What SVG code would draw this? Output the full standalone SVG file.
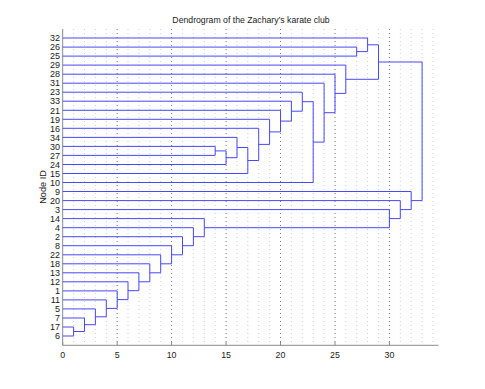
<svg xmlns="http://www.w3.org/2000/svg" width="485" height="389" viewBox="0 0 485 389">
<style>
.t{font-family:"Liberation Sans",Arial,sans-serif;fill:#1a1a1a;}
.yl{font-size:9px;text-anchor:end;}
.xl{font-size:8.8px;text-anchor:middle;}
.gmin{stroke:#c4c4c4;stroke-width:0.8;stroke-dasharray:1 3;fill:none;}
.gmaj{stroke:#555;stroke-width:0.8;stroke-dasharray:1 3;fill:none;}
.ax{stroke:#8a8a8a;stroke-width:1;fill:none;}
.lk{stroke:#4848ff;stroke-width:1;fill:none;}
</style>
<rect width="485" height="389" fill="#fff"/>
<text class="t" x="251" y="22.5" font-size="8.7" text-anchor="middle">Dendrogram of the Zachary’s karate club</text>
<g id="grid">
<path class="gmin" d="M73.6 29V345M84.5 29V345M95.4 29V345M106.3 29V345M128 29V345M138.9 29V345M149.8 29V345M160.7 29V345M182.5 29V345M193.4 29V345M204.3 29V345M215.2 29V345M237 29V345M247.8 29V345M258.7 29V345M269.6 29V345M291.4 29V345M302.3 29V345M313.2 29V345M324.1 29V345M345.8 29V345M356.7 29V345M367.6 29V345M378.5 29V345M400.3 29V345M411.2 29V345M422.1 29V345M433 29V345"/>
<path class="gmaj" d="M117.2 29V345M171.6 29V345M226.1 29V345M280.5 29V345M335 29V345M389.4 29V345"/>
</g>
<g id="axes">
<path class="ax" d="M62.7 29V345.3H438.4"/>
<path class="ax" d="M62.7 345.3V342M117.2 345.3V342M171.6 345.3V342M226.1 345.3V342M280.5 345.3V342M335 345.3V342M389.4 345.3V342"/>
<g class="t xl">
<text x="62.7" y="357.5">0</text><text x="117.2" y="357.5">5</text><text x="171.6" y="357.5">10</text><text x="226.1" y="357.5">15</text><text x="280.5" y="357.5">20</text><text x="335" y="357.5">25</text><text x="389.4" y="357.5">30</text>
</g>
<text class="t" font-size="9.2" text-anchor="middle" transform="translate(46 187) rotate(-90)">Node ID</text>
</g>
<g id="leaves" class="t yl">
<text x="60" y="41.2">32</text><text x="60" y="50.2">26</text><text x="60" y="59.3">25</text><text x="60" y="68.3">29</text><text x="60" y="77.4">28</text><text x="60" y="86.4">31</text><text x="60" y="95.4">23</text><text x="60" y="104.4">33</text><text x="60" y="113.5">21</text><text x="60" y="122.5">19</text><text x="60" y="131.5">16</text><text x="60" y="140.6">34</text><text x="60" y="149.6">30</text><text x="60" y="158.6">27</text><text x="60" y="167.7">24</text><text x="60" y="176.7">15</text><text x="60" y="185.7">10</text><text x="60" y="194.7">9</text><text x="60" y="203.8">20</text><text x="60" y="212.8">3</text><text x="60" y="221.8">14</text><text x="60" y="230.9">4</text><text x="60" y="239.9">2</text><text x="60" y="248.9">8</text><text x="60" y="258">22</text><text x="60" y="267">18</text><text x="60" y="276">13</text><text x="60" y="285">12</text><text x="60" y="294.1">1</text><text x="60" y="303.1">11</text><text x="60" y="312.1">5</text><text x="60" y="321.2">7</text><text x="60" y="330.2">17</text><text x="60" y="339.2">6</text>
</g>
<g id="connectors" class="lk">
<path d="M62.7 327H73.6V336H62.7"/>
<path d="M62.7 318H84.5V331.5H73.6"/>
<path d="M62.7 308.9H95.4V324.7H84.5"/>
<path d="M62.7 299.9H106.3V316.8H95.4"/>
<path d="M62.7 290.9H117.2V308.4H106.3"/>
<path d="M62.7 281.8H128V299.6H117.2"/>
<path d="M62.7 272.8H138.9V290.7H128"/>
<path d="M62.7 263.8H149.8V281.8H138.9"/>
<path d="M62.7 254.8H160.7V272.8H149.8"/>
<path d="M62.7 245.7H171.6V263.8H160.7"/>
<path d="M62.7 236.7H182.5V254.8H171.6"/>
<path d="M62.7 227.7H193.4V245.7H182.5"/>
<path d="M62.7 218.6H204.3V236.7H193.4"/>
<path d="M62.7 209.6H389.4V227.7H204.3"/>
<path d="M62.7 200.6H400.3V218.6H389.4"/>
<path d="M62.7 191.5H411.2V209.6H400.3"/>
<path d="M62.7 146.4H215.2V155.4H62.7"/>
<path d="M215.2 150.9H226.1V164.5H62.7"/>
<path d="M62.7 137.4H237V157.7H226.1"/>
<path d="M237 147.5H247.8V173.5H62.7"/>
<path d="M62.7 128.3H258.7V160.5H247.8"/>
<path d="M62.7 119.3H269.6V144.4H258.7"/>
<path d="M62.7 110.3H280.5V131.9H269.6"/>
<path d="M62.7 101.2H291.4V121.1H280.5"/>
<path d="M62.7 92.2H302.3V111.2H291.4"/>
<path d="M302.3 101.7H313.2V182.5H62.7"/>
<path d="M62.7 83.2H324.1V142.1H313.2"/>
<path d="M62.7 74.2H335V112.7H324.1"/>
<path d="M62.7 65.1H345.8V93.4H335"/>
<path d="M62.7 47.1H356.7V56.1H62.7"/>
<path d="M62.7 38H367.6V51.6H356.7"/>
<path d="M367.6 44.8H378.5V79.3H345.8"/>
<path d="M378.5 62H422.1V200.6H411.2"/>
</g>
</svg>
